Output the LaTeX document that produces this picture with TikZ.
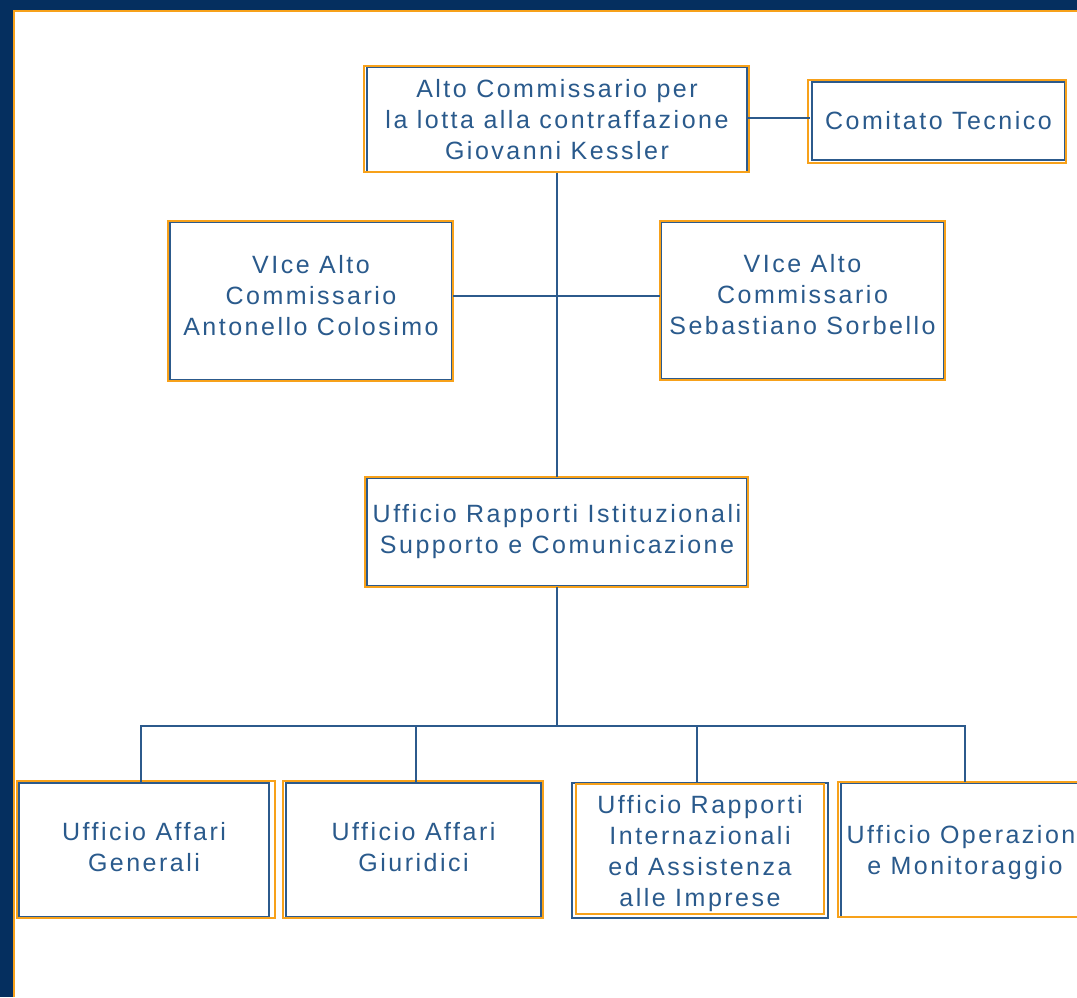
\documentclass[tikz,border=0pt]{standalone}
\usepackage{fontspec}
\newfontfamily\lab[LetterSpace=10]{Liberation Sans}
\definecolor{navy}{HTML}{052F5F}
\definecolor{boxblue}{HTML}{2C5A8C}
\definecolor{txtblue}{HTML}{2A5A8C}
\definecolor{orng}{HTML}{F7A11A}
\begin{document}
\begin{tikzpicture}[x=1pt,y=-1pt,
  box/.style={draw=boxblue,line width=2pt,rectangle,inner sep=0pt,
    text=txtblue,align=center,font=\lab\fontsize{25}{31}\selectfont},
  obox/.style={draw=orng,line width=1.6pt},
  conn/.style={draw=boxblue,line width=2pt}]
\useasboundingbox (0,0) rectangle (1077,997);
\fill[navy] (0,0) rectangle (1077,997);
\fill[white] (13,10) rectangle (1077,997);
\draw[orng,line width=2pt] (14,997) -- (14,11) -- (1077,11);
\begin{scope}
\clip (13,10) rectangle (1077,997);
% nodes
\node[box,minimum width=380pt,minimum height=105pt] (top) at (557,119.5)
  {Alto Commissario per\\la lotta alla contraffazione\\Giovanni Kessler};
\node[box,minimum width=253pt,minimum height=78pt] (ct) at (938.5,121)
  {Comitato Tecnico};
\node[box,minimum width=282pt,minimum height=158pt,text depth=12pt] (vl) at (311,301)
  {VIce Alto\\Commissario\\Antonello Colosimo};
\node[box,minimum width=283pt,minimum height=157pt,text depth=12pt] (vr) at (802.5,300.5)
  {VIce Alto\\Commissario\\Sebastiano Sorbello};
\node[box,minimum width=380pt,minimum height=108pt] (ur) at (557,532)
  {Ufficio Rapporti Istituzionali\\Supporto e Comunicazione};
\node[box,minimum width=250pt,minimum height=134pt,text depth=6pt] (b1) at (144,850)
  {Ufficio Affari\\Generali};
\node[box,minimum width=255pt,minimum height=134pt,text depth=6pt] (b2) at (413.5,850)
  {Ufficio Affari\\Giuridici};
\node[box,minimum width=256pt,minimum height=135pt,text depth=-6pt] (b3) at (700,850.5)
  {Ufficio Rapporti\\Internazionali\\ed Assistenza\\alle Imprese};
\node[box,minimum width=248pt,minimum height=134pt,text depth=-8pt] (b4) at (965,850)
  {Ufficio Operazioni\\e Monitoraggio};
% orange frames
\draw[obox] (364,66) rectangle (749,172);
\draw[obox] (808,80) rectangle (1066,163);
\draw[obox] (168,221) rectangle (453,381);
\draw[obox] (660,221) rectangle (945,380);
\draw[obox] (365,477) rectangle (748,587);
\draw[obox] (17,781) rectangle (275,918);
\draw[obox] (283,781) rectangle (543,918);
\draw[obox] (576,784) rectangle (824,914);
\draw[obox] (838,782) rectangle (1085,917);
% connectors
\coordinate (hub) at (557,296);
\coordinate (bus) at (557,726);
\coordinate (ctl) at (810,118);
\draw[conn] (top.south) -- (ur.north);
\draw[conn] (top.east |- ctl) -- (ctl);
\draw[conn] (vl.east |- hub) -- (vr.west |- hub);
\draw[conn] (ur.south) -- (bus);
\draw[conn] ([xshift=-3pt]b1.north) |- (bus) -| (b4.north);
\draw[conn] ([xshift=2.5pt]b2.north) -- ([xshift=2.5pt]b2.north |- bus);
\draw[conn] ([xshift=-3pt]b3.north) -- ([xshift=-3pt]b3.north |- bus);
\end{scope}
\end{tikzpicture}
\end{document}
